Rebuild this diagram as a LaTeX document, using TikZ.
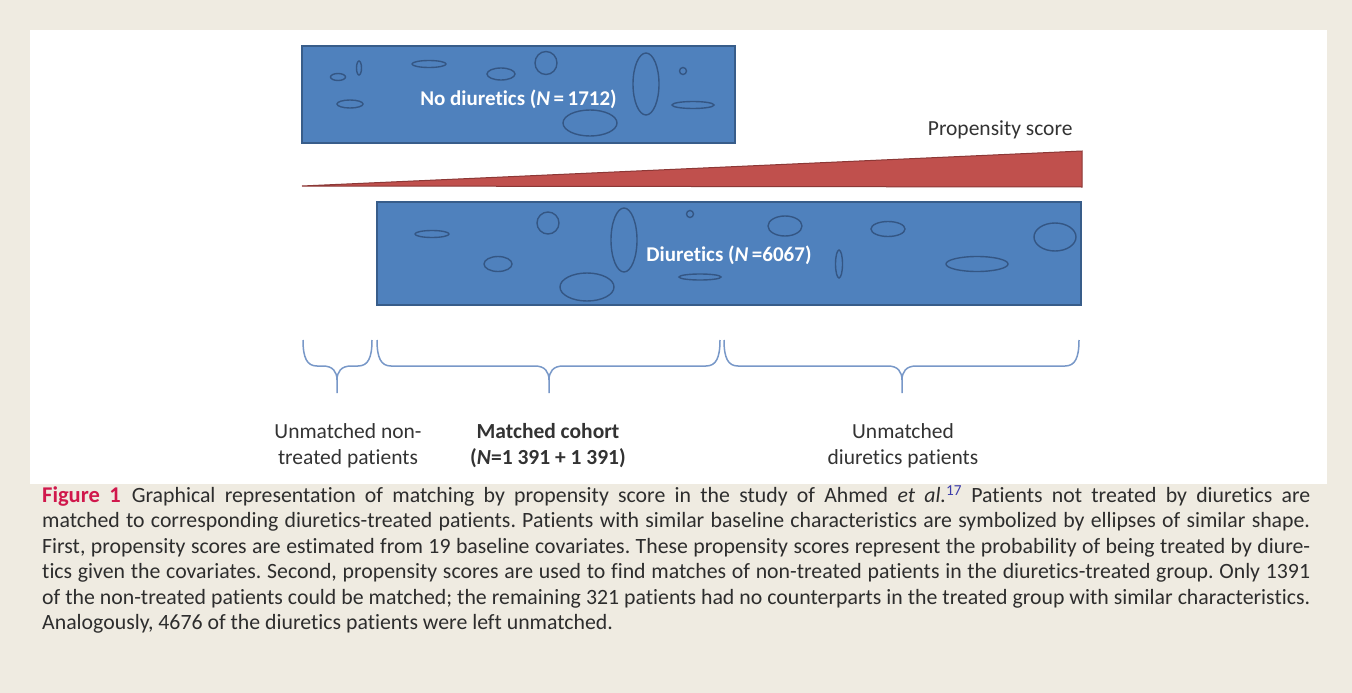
\documentclass[tikz,border=0pt]{standalone}
\usepackage{fontspec}
\setmainfont{Carlito}[Ligatures=NoCommon]
\usetikzlibrary{positioning}

\definecolor{pagebg}{RGB}{239,235,225}
\definecolor{boxblue}{RGB}{79,129,189}
\definecolor{boxline}{RGB}{56,93,138}
\definecolor{ringblue}{RGB}{52,86,132}
\definecolor{wedgered}{RGB}{192,80,77}
\definecolor{wedgeline}{RGB}{140,56,54}
\definecolor{bracecol}{RGB}{120,152,200}
\definecolor{figred}{RGB}{208,24,76}
\definecolor{refblue}{RGB}{60,60,170}
\definecolor{captext}{RGB}{45,45,45}

\tikzset{
  groupbox/.style={draw=boxline,fill=boxblue,line width=1.4pt,inner sep=0pt,
    text=white,font=\fontsize{21}{24}\selectfont\bfseries},
  patient/.style={draw=ringblue,line width=1.4pt},
  bracestyle/.style={draw=bracecol,line width=1.5pt},
  lbl/.style={align=center,text=black!80,font=\fontsize{21.5}{26}\selectfont}
}

% curly brace under a group: left end, tip, right end
\newcommand\patbrace[3]{%
  \draw[bracestyle] (#1,340) .. controls (#1,358) and (#1+4,366) .. (#1+14,366)
    -- (#2-14,366) .. controls (#2-4,366) and (#2,372) .. (#2,380) -- (#2,393);
  \draw[bracestyle] (#2,380) .. controls (#2,372) and (#2+4,366) .. (#2+14,366)
    -- (#3-14,366) .. controls (#3-4,366) and (#3,358) .. (#3,340);
}

\begin{document}
\begin{tikzpicture}[x=1pt,y=-1pt]
  \fill[pagebg] (0,0) rectangle (1352,693);
  \fill[white] (30,30) rectangle (1327,484);

  % the two groups
  \node[groupbox,minimum width=433pt,minimum height=97pt,text height=26pt,text depth=4.5pt]
    (nodiur) at (518.5,94.5) {No diuretics (\textit{N}\,=\,1712)};
  \node[groupbox,minimum width=704pt,minimum height=103pt,text height=20pt,text depth=4.5pt]
    (diur) at (729,253.5) {Diuretics (\textit{N}\,=6067)};

  % patients in the non-treated group
  \draw[patient] (338,77) ellipse [x radius=7.5pt,y radius=3.5pt];
  \draw[patient] (359,68) ellipse [x radius=2.5pt,y radius=7pt];
  \draw[patient] (429,64) ellipse [x radius=17pt,y radius=3.5pt];
  \draw[patient] (501,74) ellipse [x radius=14pt,y radius=6pt];
  \draw[patient] (546,63) ellipse [x radius=11pt,y radius=11.5pt];
  \draw[patient] (646,84) ellipse [x radius=13pt,y radius=31pt];
  \draw[patient] (683,71) ellipse [x radius=3.5pt,y radius=3.5pt];
  \draw[patient] (693,105) ellipse [x radius=21pt,y radius=3.5pt];
  \draw[patient] (350,104) ellipse [x radius=13pt,y radius=4pt];
  \draw[patient] (590,123) ellipse [x radius=27pt,y radius=13pt];

  % patients in the diuretics group
  \draw[patient] (432,234) ellipse [x radius=17pt,y radius=3.5pt];
  \draw[patient] (548,223) ellipse [x radius=11pt,y radius=11pt];
  \draw[patient] (624,240) ellipse [x radius=13pt,y radius=32pt];
  \draw[patient] (690,214) ellipse [x radius=3.5pt,y radius=3.5pt];
  \draw[patient] (498,264) ellipse [x radius=14pt,y radius=7.5pt];
  \draw[patient] (587,287) ellipse [x radius=27pt,y radius=14pt];
  \draw[patient] (700,277) ellipse [x radius=21pt,y radius=3pt];
  \draw[patient] (785,226) ellipse [x radius=17pt,y radius=10pt];
  \draw[patient] (888,229) ellipse [x radius=17pt,y radius=7.5pt];
  \draw[patient] (1055,237) ellipse [x radius=21pt,y radius=14pt];
  \draw[patient] (977,264) ellipse [x radius=31pt,y radius=7.5pt];
  \draw[patient] (839,264) ellipse [x radius=3.5pt,y radius=14pt];

  % propensity score wedge
  \filldraw[fill=wedgered,draw=wedgeline,line width=1pt]
    (302,186) -- (1082,151) -- (1082,187) -- cycle;
  \node[lbl,anchor=east] (propscore) at (1076,130) {Propensity score};

  % braces and their labels
  \patbrace{303}{337}{372}
  \patbrace{377}{549}{720}
  \patbrace{724}{902}{1079}

  \node[lbl] (lunmatched) at (348,446) {Unmatched non-\\treated patients};
  \node[lbl,font=\fontsize{21.5}{26}\selectfont\bfseries] (lmatched) at (548,446)
    {Matched cohort\\(\textit{N}=1 391 + 1 391)};
  \node[lbl] (lunmdiur) at (903,446) {Unmatched\\diuretics patients};

  % caption
  \node[anchor=north west,inner sep=0pt,text width=1268pt,align=justify,text=captext,
    font=\fontsize{21.8}{25.4}\selectfont] (caption) at (42,485)
  {\frenchspacing\hyphenpenalty=10000\exhyphenpenalty=10000\tolerance=10000
   {\fontsize{22.5}{25.4}\selectfont\bfseries\color{figred}Figure 1}\enspace Graphical representation of matching by propensity score in the study of Ahmed \textit{et al.}\textsuperscript{\color{refblue}17} Patients not treated by diuretics are\linebreak
   matched to corresponding diuretics-treated patients. Patients with similar baseline characteristics are symbolized by ellipses of similar shape.\linebreak
   First, propensity scores are estimated from 19 baseline covariates. These propensity scores represent the probability of being treated by diure-\linebreak
   tics given the covariates. Second, propensity scores are used to find matches of non-treated patients in the diuretics-treated group. Only 1391\linebreak
   of the non-treated patients could be matched; the remaining 321 patients had no counterparts in the treated group with similar characteristics.\linebreak
   Analogously, 4676 of the diuretics patients were left unmatched.};
\end{tikzpicture}
\end{document}
